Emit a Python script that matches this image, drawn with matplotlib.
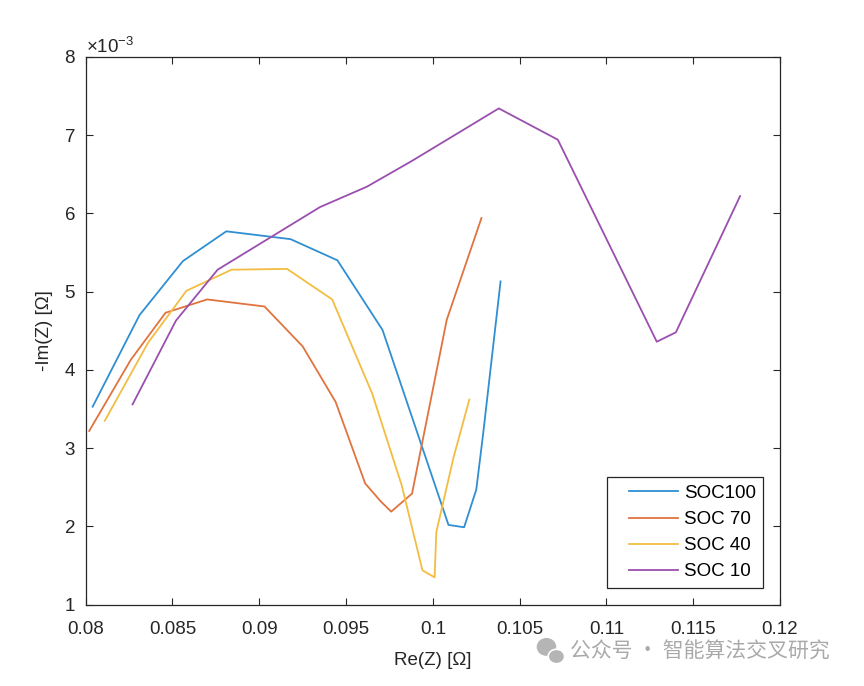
"""
Nyquist plot of impedance at several states of charge.
"""

import matplotlib

matplotlib.use("Agg")
import matplotlib.pyplot as plt
import matplotlib.ticker as mtick
from matplotlib.lines import Line2D
from matplotlib.legend_handler import HandlerLine2D
from matplotlib.patches import Ellipse

plt.rcParams["font.family"] = ["Liberation Sans", "DejaVu Sans"]
plt.rcParams["mathtext.fontset"] = "custom"
plt.rcParams["mathtext.rm"] = "Liberation Sans"
plt.rcParams["axes.unicode_minus"] = False

# Re(Z) in ohm, -Im(Z) in milli-ohm
soc100_re = [0.0804, 0.0831, 0.0856, 0.0881, 0.0918, 0.0945, 0.0971,
             0.1009, 0.1018, 0.1025, 0.1029, 0.1039]
soc100_im = [3.53, 4.70, 5.39, 5.77, 5.67, 5.40, 4.51,
             2.02, 1.99, 2.47, 3.19, 5.13]

soc70_re = [0.0802, 0.0826, 0.0846, 0.0870, 0.0903, 0.0925, 0.0944,
            0.0961, 0.0970, 0.0976, 0.0988, 0.1008, 0.1028]
soc70_im = [3.22, 4.13, 4.73, 4.90, 4.81, 4.30, 3.59,
            2.55, 2.32, 2.19, 2.42, 4.64, 5.94]

soc40_re = [0.0811, 0.0836, 0.0858, 0.0884, 0.0916, 0.0942, 0.0965,
            0.0982, 0.0994, 0.1001, 0.1002, 0.1012, 0.1021]
soc40_im = [3.35, 4.35, 5.01, 5.28, 5.29, 4.90, 3.70,
            2.53, 1.44, 1.35, 1.93, 2.89, 3.62]

soc10_re = [0.0827, 0.0852, 0.0876, 0.0935, 0.0962, 0.0988, 0.1038,
            0.1072, 0.1129, 0.1140, 0.1177]
soc10_im = [3.56, 4.63, 5.28, 6.08, 6.34, 6.67, 7.34,
            6.94, 4.36, 4.48, 6.22]

labels = ["SOC100", "SOC 70", "SOC 40", "SOC 10"]
colours = ["#2f8fd2", "#e0733f", "#f2bd42", "#9a4fae"]

x_ticks = [0.08, 0.085, 0.09, 0.095, 0.1, 0.105, 0.11, 0.115, 0.12]
x_tick_labels = ["0.08", "0.085", "0.09", "0.095", "0.1", "0.105", "0.11",
                 "0.115", "0.12"]
y_ticks = [1, 2, 3, 4, 5, 6, 7, 8]

series = [
    (soc100_re, soc100_im),
    (soc70_re, soc70_im),
    (soc40_re, soc40_im),
    (soc10_re, soc10_im),
]


class LeadLine(HandlerLine2D):
    """Legend line that leaves a gap on its left, like MATLAB legends."""

    def __init__(self, lead, **kwargs):
        super().__init__(**kwargs)
        self.lead = lead

    def get_xdata(self, legend, xdescent, ydescent, width, height, fontsize):
        xdata = [-xdescent + self.lead * fontsize, -xdescent + width]
        return xdata, [-xdescent + 0.5 * width]


fig = plt.figure(figsize=(8.64, 6.86), dpi=100)
ax = fig.add_axes([0.0992, 0.1184, 0.8036, 0.7989])

for (re, im), label, colour in zip(series, labels, colours):
    ax.plot(re, [v * 1e-3 for v in im], color=colour, lw=1.3, label=label)

axis_colour = "#262626"
ax.set_xlim(0.08, 0.12)
ax.set_ylim(1e-3, 8e-3)
ax.set_xticks(x_ticks)
ax.set_xticklabels(x_tick_labels)
ax.set_yticks([v * 1e-3 for v in y_ticks])

fmt = mtick.ScalarFormatter(useMathText=True)
fmt.set_powerlimits((-2, 2))
ax.yaxis.set_major_formatter(fmt)
ax.yaxis.get_offset_text().set_fontsize(13.5)
ax.yaxis.get_offset_text().set_color(axis_colour)

ax.tick_params(direction="in", top=True, right=True, length=5, width=0.8,
               labelsize=13.5, colors=axis_colour)
ax.tick_params(axis="x", pad=12)
ax.tick_params(axis="y", pad=7)
for spine in ax.spines.values():
    spine.set_color(axis_colour)
    spine.set_linewidth(0.9)

ax.set_xlabel("Re(Z) [Ω]", fontsize=13.5, color=axis_colour, labelpad=10)
ax.set_ylabel("-Im(Z) [Ω]", fontsize=13.5, color=axis_colour, labelpad=8)

leg = ax.legend(loc="lower right", fontsize=13.5, fancybox=False,
                framealpha=1, edgecolor=axis_colour, borderaxespad=0.9,
                handlelength=3.4, handletextpad=0.3, labelspacing=0.48,
                borderpad=0.4,
                handler_map={Line2D: LeadLine(0.8)})
leg.get_frame().set_linewidth(0.9)

# watermark from the source image
fig.text(0.66, 0.0496, "公众号 · 智能算法交叉研究", fontsize=15, color="#a9a9a9",
         family=["Noto Sans CJK SC", "DejaVu Sans"], va="center")
fig.patches.append(Ellipse((0.6325, 0.057), 0.021, 0.024, color="#b5b5b5",
                           transform=fig.transFigure, figure=fig))
fig.patches.append(Ellipse((0.644, 0.043), 0.019, 0.021, color="#b5b5b5",
                           ec="white", lw=1.2,
                           transform=fig.transFigure, figure=fig))

fig.savefig("out.png", dpi=100)
